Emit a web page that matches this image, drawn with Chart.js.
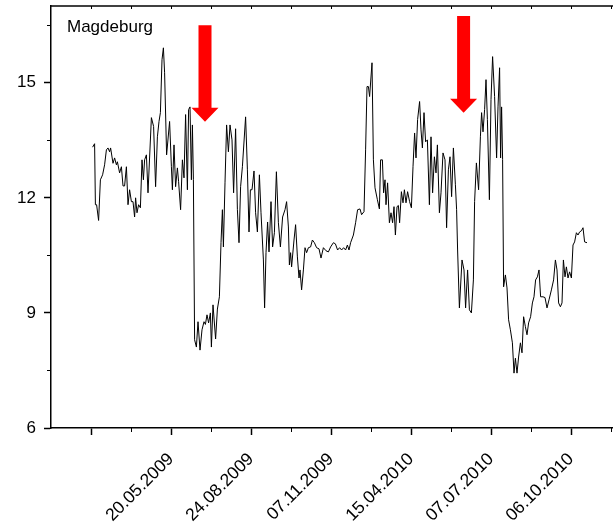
<!DOCTYPE html>
<html>
<head>
<meta charset="utf-8">
<script src="https://cdn.jsdelivr.net/npm/chart.js@4.4.0/dist/chart.umd.min.js"></script>
<style>
  html, body { margin: 0; padding: 0; background: #fff; overflow: hidden; }
  canvas { display: block; }
</style>
</head>
<body>
<canvas id="chart" width="613" height="531"></canvas>
<script>
// x = position along the sample axis, y = measured value
const dayIndex = [
  0.8, 1.8, 2.2, 2.8, 3.8, 4.7, 5.8, 6.8, 7.7, 8.5, 9.3, 9.8, 11, 11.8, 12.7, 13.2, 14.3, 15.2, 16, 16.8,
  17.7, 18.5, 19.3, 20.2, 21, 21.8, 22.3, 23, 23.8, 24.7, 25.5, 26.2, 26.8, 27.7, 28.5, 30.2, 31.3, 32.3, 33.2, 34,
  34.7, 35.5, 36.2, 36.8, 37.8, 39.3, 40.2, 40.7, 41.5, 42.3, 43.2, 43.8, 44.8, 45.7, 46.5, 47.3, 48.2, 48.8, 49.5, 50.2,
  50.7, 51.2, 51.8, 52.7, 53.5, 54.5, 55.5, 56.5, 57.2, 58, 58.8, 59.7, 60.2, 61, 62.3, 63.2, 64.2, 65, 65.7, 66.2,
  67, 67.8, 68.7, 69.5, 70.5, 71.3, 72.3, 73.2, 74, 74.8, 75.7, 77.3, 78.2, 79, 79.7, 80.5, 81.5, 82.3, 83.2, 84.2,
  85, 86.2, 86.8, 87.5, 88.3, 89, 90, 90.8, 91.7, 92.7, 93.7, 94.7, 95.8, 97, 97.8, 98.7, 99.2, 99.8, 100.3, 101.5,
  102.3, 103.2, 104, 104.5, 105.3, 106.2, 107, 107.8, 108.7, 109.8, 110.7, 111.7, 112.8, 114, 115, 116.2, 117.5, 118.7, 119.8, 121.2,
  122.2, 123.3, 124.3, 125.3, 126.3, 127.3, 128.2, 129, 129.8, 131.2, 132.3, 133.3, 134.5, 135.3, 136.5, 137.3, 138, 138.7, 139.3, 140.5,
  141.2, 142, 143.2, 144.2, 144.8, 145.7, 146.3, 147, 147.5, 148.3, 149.2, 150, 150.8, 151.5, 152.2, 153, 153.7, 154.3, 155.2, 156,
  156.7, 157.5, 158.3, 159.3, 160.2, 161, 161.8, 162.5, 163.3, 164.3, 165, 165.7, 166.5, 167.3, 168.2, 169.2, 170, 170.8, 171.7, 172.5,
  173.2, 174.2, 175, 176, 177, 177.8, 178.7, 179.5, 180.3, 181.2, 182.2, 182.8, 183.3, 184.2, 185.5, 186.5, 187.3, 188.3, 189.2, 190.2,
  191.2, 191.8, 192.7, 193.8, 194.7, 195.3, 196, 196.8, 197.5, 198.2, 199.2, 200, 200.8, 201.8, 202.8, 203.5, 204.3, 204.8, 205.3, 205.8,
  206.3, 207.2, 208, 208.8, 209.7, 210.7, 211.5, 212.2, 213, 213.8, 214.7, 215.5, 216.3, 217.2, 218, 218.8, 219.8, 220.7, 221.5, 222.3,
  223.2, 224, 224.8, 226, 227, 228, 229, 230.2, 231.3, 232.2, 233, 233.8, 234.7, 235.5, 236.2, 237, 237.7, 238.5, 239.3, 240.2,
  241, 241.8, 242.7, 243.5, 244.3, 245.2, 246, 246.8, 248
];
const values = [
  13.32, 13.41, 11.82, 11.82, 11.41, 12.47, 12.6, 12.86, 13.25, 13.3, 13.2, 13.3, 12.9, 13.04, 12.86, 12.94, 12.65, 12.81, 12.31, 12.31,
  12.81, 11.82, 12.21, 11.9, 11.9, 11.5, 12.0, 11.61, 11.82, 11.74, 12.99, 12.47, 12.99, 13.12, 12.13, 14.09, 13.86, 12.29, 13.59, 13.99,
  14.22, 15.6, 15.91, 15.26, 13.12, 13.99, 12.81, 12.21, 13.38, 12.29, 12.78, 12.42, 11.69, 12.99, 12.52, 14.17, 12.21, 14.3, 14.37, 12.47,
  13.9, 12.47, 8.3, 8.11, 8.77, 8.03, 8.56, 8.77, 8.7, 8.95, 8.74, 9.0, 8.11, 9.21, 8.32, 9.1, 9.42, 10.83, 11.69, 10.72,
  12.39, 13.9, 13.2, 13.9, 13.51, 12.13, 13.8, 11.69, 10.83, 12.29, 12.81, 14.11, 12.73, 11.11, 12.21, 12.21, 12.7, 11.61, 11.11, 12.6,
  11.61, 10.38, 9.13, 10.57, 11.37, 10.59, 11.9, 10.72, 11.09, 12.68, 11.35, 10.72, 11.5, 11.69, 11.9, 11.24, 10.25, 10.57, 10.2, 10.9,
  11.3, 10.46, 9.91, 10.12, 9.6, 10.12, 10.7, 10.57, 10.7, 10.72, 10.9, 10.83, 10.7, 10.67, 10.43, 10.7, 10.62, 10.59, 10.72, 10.83,
  10.8, 10.64, 10.7, 10.64, 10.7, 10.64, 10.77, 10.64, 10.83, 11.03, 11.35, 11.69, 11.71, 11.56, 11.64, 13.25, 14.9, 14.9, 14.64, 15.52,
  12.99, 12.26, 11.95, 11.71, 12.99, 12.99, 12.13, 12.47, 11.82, 12.39, 11.35, 11.61, 11.35, 11.77, 11.03, 11.77, 11.8, 11.35, 12.16, 11.87,
  12.21, 11.87, 12.16, 11.9, 11.74, 12.81, 13.69, 13.04, 14.04, 14.51, 13.77, 13.3, 14.22, 13.46, 13.51, 11.82, 13.59, 12.13, 13.07, 12.65,
  13.38, 11.61, 12.13, 13.17, 12.99, 11.22, 12.73, 13.07, 12.03, 13.3, 12.34, 11.69, 10.64, 9.13, 10.38, 10.12, 9.13, 10.12, 9.08, 9.0,
  9.86, 11.9, 12.91, 12.21, 13.59, 14.22, 13.72, 14.3, 15.08, 14.04, 11.95, 14.56, 15.68, 14.64, 13.04, 14.37, 15.39, 13.04, 14.37, 13.0,
  9.68, 9.99, 9.65, 8.82, 8.56, 8.22, 7.43, 7.82, 7.43, 7.85, 8.22, 7.96, 8.9, 8.64, 8.43, 8.74, 8.9, 9.26, 9.42, 9.86,
  9.94, 10.12, 9.42, 9.42, 9.4, 9.13, 9.34, 9.6, 9.86, 10.38, 10.12, 9.26, 9.16, 9.26, 10.38, 9.94, 10.2, 9.91, 10.07, 9.91,
  10.77, 10.85, 11.09, 11.03, 11.11, 11.14, 11.22, 10.85, 10.83
];

// major ticks on the bottom axis and their labels (first one unlabelled)
const majorTicks = [0, 40, 80, 120, 160, 200, 240];
const tickLabels = ['', '20.05.2009', '24.08.2009', '07.11.2009', '15.04.2010', '07.07.2010', '06.10.2010'];
const yTicks = [6, 9, 12, 15];

// red arrows (x position, top of shaft, tip) in data units
const arrowX = [57, 186.3];
const arrowTop = [16.5, 16.74];
const arrowTip = [13.98, 14.22];

const stationName = 'Magdeburg';

const points = dayIndex.map((d, i) => ({ x: d, y: values[i] }));
const FONT = '"Liberation Sans", Arial, sans-serif';

// frame extras: top line, minor ticks, arrows, station label
const extras = {
  id: 'extras',
  afterDraw(chart) {
    const { ctx, chartArea: a, scales: { x, y } } = chart;
    ctx.save();
    ctx.strokeStyle = '#000';
    ctx.lineWidth = 1.5;
    ctx.beginPath();
    ctx.moveTo(a.left, a.top);
    ctx.lineTo(a.right, a.top);
    ctx.stroke();

    ctx.lineWidth = 1;
    ctx.beginPath();
    for (let v = 0; v <= x.max; v += 20) {
      const px = Math.round(x.getPixelForValue(v)) + 0.5;
      ctx.moveTo(px, a.top); ctx.lineTo(px, a.top + 3);
      if (v % 40 !== 0) { ctx.moveTo(px, a.bottom); ctx.lineTo(px, a.bottom + 4); }
    }
    for (let v = 7.5; v <= y.max; v += 3) {
      const py = Math.round(y.getPixelForValue(v)) + 0.5;
      ctx.moveTo(a.left, py); ctx.lineTo(a.left - 4, py);
    }
    ctx.stroke();

    ctx.fillStyle = '#ff0000';
    arrowX.forEach((ax, i) => {
      const cx = x.getPixelForValue(ax);
      const top = y.getPixelForValue(arrowTop[i]);
      const tip = y.getPixelForValue(arrowTip[i]);
      const base = tip - 14;
      ctx.beginPath();
      ctx.moveTo(cx - 6.5, top);
      ctx.lineTo(cx + 6.5, top);
      ctx.lineTo(cx + 6.5, base);
      ctx.lineTo(cx + 13.5, base);
      ctx.lineTo(cx, tip);
      ctx.lineTo(cx - 13.5, base);
      ctx.lineTo(cx - 6.5, base);
      ctx.closePath();
      ctx.fill();
    });

    ctx.fillStyle = '#000';
    ctx.font = '17px ' + FONT;
    ctx.textBaseline = 'alphabetic';
    ctx.fillText(stationName, a.left + 16, a.top + 26);
    ctx.restore();
  }
};

new Chart(document.getElementById('chart').getContext('2d'), {
  type: 'line',
  data: {
    datasets: [{
      data: points,
      borderColor: '#000',
      borderWidth: 1,
      pointRadius: 0,
      tension: 0,
      fill: false
    }]
  },
  options: {
    responsive: false,
    animation: false,
    layout: { padding: { top: 6, right: 0, left: 0, bottom: 0 } },
    plugins: { legend: { display: false }, tooltip: { enabled: false } },
    scales: {
      x: {
        type: 'linear',
        min: -20,
        max: 261,
        afterBuildTicks: s => { s.ticks = majorTicks.map(v => ({ value: v })); },
        afterFit: s => { s.height = 103; s.paddingLeft = 0; s.paddingRight = 0; },
        border: { display: true, color: '#000', width: 1.5 },
        grid: { display: true, drawOnChartArea: false, tickLength: 7, tickColor: '#000', tickWidth: 1.5 },
        ticks: {
          autoSkip: false,
          maxRotation: 45,
          minRotation: 45,
          padding: 14,
          color: '#000',
          font: { family: FONT, size: 17.5 },
          callback: v => {
            const k = majorTicks.indexOf(v);
            return k >= 0 ? tickLabels[k] : '';
          }
        }
      },
      y: {
        min: 6,
        max: 17,
        afterBuildTicks: s => { s.ticks = yTicks.map(v => ({ value: v })); },
        afterFit: s => { s.width = 51; s.paddingTop = 0; s.paddingBottom = 0; },
        border: { display: true, color: '#000', width: 1.5 },
        grid: { display: true, drawOnChartArea: false, tickLength: 7, tickColor: '#000', tickWidth: 1.5 },
        ticks: {
          padding: 8,
          color: '#000',
          font: { family: FONT, size: 17 }
        }
      }
    }
  },
  plugins: [extras]
});
</script>
</body>
</html>
